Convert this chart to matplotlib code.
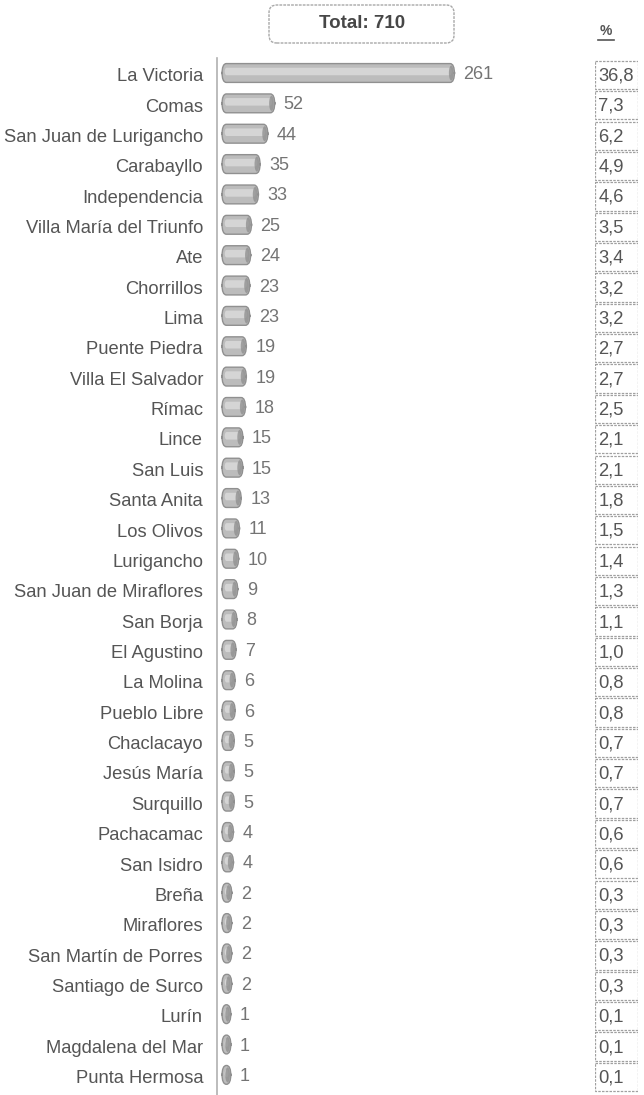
import matplotlib
matplotlib.use("Agg")
import matplotlib.pyplot as plt
from matplotlib.patches import FancyBboxPatch, Rectangle, Ellipse
import matplotlib.transforms as mtransforms

districts = ["La Victoria", "Comas", "San Juan de Lurigancho", "Carabayllo", "Independencia",
             "Villa María del Triunfo", "Ate", "Chorrillos", "Lima", "Puente Piedra",
             "Villa El Salvador", "Rímac", "Lince", "San Luis", "Santa Anita", "Los Olivos",
             "Lurigancho", "San Juan de Miraflores", "San Borja", "El Agustino", "La Molina",
             "Pueblo Libre", "Chaclacayo", "Jesús María", "Surquillo", "Pachacamac",
             "San Isidro", "Breña", "Miraflores", "San Martín de Porres", "Santiago de Surco",
             "Lurín", "Magdalena del Mar", "Punta Hermosa"]
counts = [261, 52, 44, 35, 33, 25, 24, 23, 23, 19, 19, 18, 15, 15, 13, 11, 10, 9, 8, 7, 6,
          6, 5, 5, 5, 4, 4, 2, 2, 2, 2, 1, 1, 1]
percents = [36.8, 7.3, 6.2, 4.9, 4.6, 3.5, 3.4, 3.2, 3.2, 2.7, 2.7, 2.5, 2.1, 2.1, 1.8, 1.5,
            1.4, 1.3, 1.1, 1.0, 0.8, 0.8, 0.7, 0.7, 0.7, 0.6, 0.6, 0.3, 0.3, 0.3, 0.3, 0.1,
            0.1, 0.1]
total_label = "Total: {}".format(sum(counts))

FONT = ["Liberation Sans", "DejaVu Sans"]
plt.rcParams["font.family"] = FONT

W, H = 644, 1095
fig = plt.figure(figsize=(W / 100, H / 100), dpi=100)
fig.patch.set_facecolor("white")

# layout (pixels)
ax_left, ax_right = 217, 590
ax_top, ax_bottom = 58, 1095
px_per_unit = 0.86
row0_px, row_step = 73, 30.36

xmax = (ax_right - ax_left) / px_per_unit
y_top = (ax_top - row0_px) / row_step
y_bot = (ax_bottom - row0_px) / row_step

ax = fig.add_axes([ax_left / W, 0, (ax_right - ax_left) / W, (ax_bottom - ax_top) / H])
ax.set_xlim(0, xmax)
ax.set_ylim(y_bot, y_top)
for s in ["top", "right", "bottom"]:
    ax.spines[s].set_visible(False)
ax.spines["left"].set_color("#b0b0b0")
ax.spines["left"].set_linewidth(1.2)
ax.spines["left"].set_linestyle((0, (1, 1)))
ax.set_xticks([])
ax.set_yticks([])

gap = 5 / px_per_unit
cap = 8 / px_per_unit
bar_h = 0.62
r_x = 5.0
aspect = 9.0 / (r_x * px_per_unit * row_step)

for i, (name, v) in enumerate(zip(districts, counts)):
    w = v + cap
    r = min(r_x, w / 2.0)
    base = FancyBboxPatch((gap, i - bar_h / 2), w, bar_h,
                          boxstyle="round,pad=0,rounding_size={}".format(r),
                          mutation_aspect=aspect, facecolor="#bcbcbc",
                          edgecolor="#909090", linewidth=1.0, zorder=2)
    ax.add_patch(base)
    hw = max(w - 2 * r, 0.5)
    hl = FancyBboxPatch((gap + r * 0.6, i - bar_h * 0.28), hw + r * 0.8, bar_h * 0.4,
                        boxstyle="round,pad=0,rounding_size={}".format(min(r * 0.5, (hw + r * 0.8) / 2)),
                        mutation_aspect=aspect, facecolor="#dcdcdc",
                        edgecolor="none", alpha=0.8, zorder=3)
    ax.add_patch(hl)
    end = Ellipse((gap + w - r * 0.75, i), r * 1.1, bar_h * 0.8, facecolor="#8e8e8e",
                  edgecolor="none", alpha=0.75, zorder=4)
    ax.add_patch(end)
    ax.text(gap + w + 9 / px_per_unit, i + 0.05, str(v), ha="left", va="center",
            fontsize=13, color="#747474", zorder=5)

# category labels
lab_tr = mtransforms.blended_transform_factory(
    mtransforms.offset_copy(ax.transAxes, fig=fig, x=-14, y=0, units="dots"), ax.transData)
for i, name in enumerate(districts):
    ax.text(0, i + 0.12, name, transform=lab_tr, ha="right", va="center",
            fontsize=13.2, color="#555555")

# percent column
pax = fig.add_axes([595 / W, 0, 43 / W, (ax_bottom - ax_top) / H])
pax.set_xlim(0, 1)
pax.set_ylim(y_bot, y_top)
pax.axis("off")
for i, p in enumerate(percents):
    rect = Rectangle((0, i - 0.4), 1, 0.93, facecolor="none", edgecolor="#a0a0a0",
                     linewidth=0.9, linestyle=(0, (2, 1)))
    pax.add_patch(rect)
    pax.text(0.08, i + 0.1, "{:.1f}".format(p).replace(".", ","), ha="left", va="center",
             fontsize=13.2, color="#555555")

# header: total box
tb = FancyBboxPatch((269 / W, 1 - 43 / H), (454 - 269) / W, (43 - 5) / H,
                    boxstyle="round,pad=0,rounding_size=0.012", transform=fig.transFigure,
                    facecolor="white", edgecolor="#a8a8a8", linewidth=1.0,
                    linestyle=(0, (2, 0.8)), mutation_aspect=W / H)
fig.patches.append(tb)
fig.text(362 / W, 1 - 24 / H, total_label, ha="center", va="center", fontsize=13.5,
         fontweight="bold", color="#474747")

# percent header
fig.text(606 / W, 1 - 31 / H, "%", ha="center", va="center", fontsize=10,
         fontweight="bold", color="#555555")
fig.lines.append(plt.Line2D([598 / W, 614 / W], [1 - 40 / H, 1 - 40 / H],
                            transform=fig.transFigure, color="#555555", linewidth=1.2))

fig.savefig("out.png", dpi=100, facecolor="white")
